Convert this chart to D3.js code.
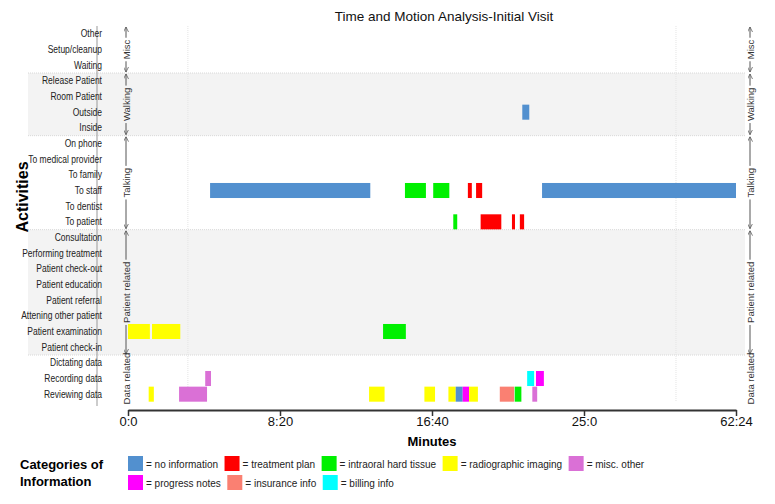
<!DOCTYPE html>
<html>
<head>
<meta charset="utf-8">
<script src="https://cdn.jsdelivr.net/npm/d3@7/dist/d3.min.js"></script>
<style>
  body { margin: 0; background: #fff; }
  text { font-family: "Liberation Sans", Arial, sans-serif; }
</style>
</head>
<body>
<svg id="chart" width="775" height="504"></svg>
<script>
// activities, top to bottom
const activities = [
  "Other", "Setup/cleanup", "Waiting",
  "Release Patient", "Room Patient", "Outside", "Inside",
  "On phone", "To medical provider", "To family", "To staff", "To dentist", "To patient",
  "Consultation", "Performing treatment", "Patient check-out", "Patient education",
  "Patient referral", "Attening other patient", "Patient examination", "Patient check-in",
  "Dictating data", "Recording data", "Reviewing data"
];

const groupNames = ["Misc", "Walking", "Talking", "Patient related", "Data related"];
const groupSizes = [3, 4, 6, 8, 3];
const groupShaded = [false, true, false, true, false];

const categories = ["no information", "treatment plan", "intraoral hard tissue", "radiographic imaging",
  "misc. other", "progress notes", "insurance info", "billing info"];
const catColors = ["#5290cf", "#ff0000", "#00f000", "#ffff00", "#da70d6", "#ff00ff", "#fa8072", "#00ffff"];

// x axis: seconds; the last stretch is squeezed
const tickSecs = [0, 500, 1000, 1500, 3744];
const gridSecs = [197, 2858];

// [activity, start (s), end (s), category]
const segments = [
  ["Outside", 1297, 1320, "no information"],
  ["To staff", 270, 797, "no information"],
  ["To staff", 911, 980, "intraoral hard tissue"],
  ["To staff", 1004, 1057, "intraoral hard tissue"],
  ["To staff", 1118, 1131, "treatment plan"],
  ["To staff", 1145, 1165, "treatment plan"],
  ["To staff", 1362, 3744, "no information"],
  ["To patient", 1070, 1083, "intraoral hard tissue"],
  ["To patient", 1160, 1228, "treatment plan"],
  ["To patient", 1263, 1273, "treatment plan"],
  ["To patient", 1289, 1303, "treatment plan"],
  ["Patient examination", 0, 72, "radiographic imaging"],
  ["Patient examination", 79, 172, "radiographic imaging"],
  ["Patient examination", 839, 914, "intraoral hard tissue"],
  ["Recording data", 254, 273, "misc. other"],
  ["Recording data", 1313, 1336, "billing info"],
  ["Recording data", 1342, 1368, "progress notes"],
  ["Reviewing data", 68, 85, "radiographic imaging"],
  ["Reviewing data", 168, 260, "misc. other"],
  ["Reviewing data", 793, 844, "radiographic imaging"],
  ["Reviewing data", 975, 1010, "radiographic imaging"],
  ["Reviewing data", 1054, 1078, "radiographic imaging"],
  ["Reviewing data", 1078, 1101, "no information"],
  ["Reviewing data", 1101, 1122, "progress notes"],
  ["Reviewing data", 1122, 1151, "radiographic imaging"],
  ["Reviewing data", 1223, 1270, "insurance info"],
  ["Reviewing data", 1272, 1294, "intraoral hard tissue"],
  ["Reviewing data", 1330, 1346, "misc. other"]
];

const svg = d3.select("#chart");

const plotTop = 26, plotBottom = 402;
const plotLeft = 128, plotRight = 736;

// squeeze text horizontally, the source used a narrow face
function narrow(sel, k) {
  sel.each(function() {
    const w = this.getComputedTextLength();
    d3.select(this).attr("textLength", w * k).attr("lengthAdjust", "spacingAndGlyphs");
  });
}

const x = d3.scaleLinear()
  .domain(tickSecs)
  .range(tickSecs.map((d, i) => plotLeft + i * (plotRight - plotLeft) / (tickSecs.length - 1)));

const y = d3.scaleBand()
  .domain(activities)
  .range([plotTop, plotBottom])
  .paddingInner(0.04)
  .paddingOuter(0.02);

const color = d3.scaleOrdinal().domain(categories).range(catColors);

// group extents
let acc = 0;
const groups = groupNames.map((g, i) => {
  const first = activities[acc], last = activities[acc + groupSizes[i] - 1];
  acc += groupSizes[i];
  const step = y.step();
  return {
    name: g,
    y0: y(first) - step * y.paddingInner() / 2,
    y1: y(last) + y.bandwidth() + step * y.paddingInner() / 2,
    shaded: groupShaded[i]
  };
});
groups[0].y0 = plotTop;
groups[groups.length - 1].y1 = plotBottom;

// shaded bands
svg.selectAll("rect.band")
  .data(groups.filter(g => g.shaded))
  .enter().append("rect")
  .attr("class", "band")
  .attr("x", 28).attr("width", 745 - 28)
  .attr("y", d => d.y0).attr("height", d => d.y1 - d.y0)
  .attr("fill", "#f3f3f3");

svg.selectAll("line.bandedge")
  .data(groups.filter(g => g.shaded).flatMap(g => [g.y0, g.y1]))
  .enter().append("line")
  .attr("x1", 28).attr("x2", 745)
  .attr("y1", d => d).attr("y2", d => d)
  .attr("stroke", "#d8d8d8")
  .attr("stroke-dasharray", "1,1");

// faint vertical grid
svg.selectAll("line.grid")
  .data(gridSecs)
  .enter().append("line")
  .attr("x1", d => x(d)).attr("x2", d => x(d))
  .attr("y1", plotTop).attr("y2", plotBottom)
  .attr("stroke", "#e4e4e4")
  .attr("stroke-dasharray", "1,1");

// title
svg.append("text")
  .attr("x", 444).attr("y", 21)
  .attr("text-anchor", "middle")
  .attr("font-size", 13.5)
  .attr("fill", "#111")
  .text("Time and Motion Analysis-Initial Visit");

// activity labels
svg.append("line")
  .attr("x1", 97).attr("x2", 97)
  .attr("y1", plotTop).attr("y2", 406)
  .attr("stroke", "#999");

svg.selectAll("text.act")
  .data(activities)
  .enter().append("text")
  .attr("class", "act")
  .attr("x", 102)
  .attr("y", d => y(d) + y.bandwidth() / 2 + 3.5)
  .attr("text-anchor", "end")
  .attr("font-size", 10)
  .attr("fill", "#222")
  .text(d => d)
  .call(narrow, 0.85);

svg.append("text")
  .attr("transform", "translate(28,197) rotate(-90)")
  .attr("text-anchor", "middle")
  .attr("font-size", 16)
  .attr("font-weight", "bold")
  .text("Activities");

// group brackets on both sides
const defs = svg.append("defs");
defs.append("marker")
  .attr("id", "arr")
  .attr("viewBox", "0 -4 8 8")
  .attr("refX", 8).attr("refY", 0)
  .attr("markerWidth", 5).attr("markerHeight", 5)
  .attr("markerUnits", "userSpaceOnUse")
  .attr("orient", "auto-start-reverse")
  .append("path")
  .attr("d", "M0,-4L8,0L0,4")
  .attr("fill", "none")
  .attr("stroke", "#555")
  .attr("stroke-width", 1.2);

[126, 750].forEach(bx => {
  groups.forEach(g => {
    const mid = (g.y0 + g.y1) / 2;
    const t = svg.append("text")
      .attr("transform", `translate(${bx + 3.5},${mid}) rotate(-90)`)
      .attr("text-anchor", "middle")
      .attr("font-size", 9.5)
      .attr("fill", "#333")
      .text(g.name);
    const half = t.node().getComputedTextLength() / 2 + 2;
    const a = Math.max(g.y0 + 1, mid - half), b = Math.min(g.y1 - 1, mid + half);
    if (a - g.y0 > 3) {
      svg.append("line")
        .attr("x1", bx).attr("x2", bx)
        .attr("y1", g.y0 + 1).attr("y2", a)
        .attr("stroke", "#555")
        .attr("marker-start", "url(#arr)");
    }
    if (g.y1 - b > 3) {
      svg.append("line")
        .attr("x1", bx).attr("x2", bx)
        .attr("y1", b).attr("y2", g.y1 - 1)
        .attr("stroke", "#555")
        .attr("marker-end", "url(#arr)");
    }
  });
});

// bars
svg.selectAll("rect.seg")
  .data(segments)
  .enter().append("rect")
  .attr("class", "seg")
  .attr("x", d => x(d[1]))
  .attr("width", d => x(d[2]) - x(d[1]))
  .attr("y", d => y(d[0]))
  .attr("height", y.bandwidth())
  .attr("fill", d => color(d[3]));

// x axis
const xAxis = d3.axisBottom(x)
  .tickValues(tickSecs)
  .tickSize(6)
  .tickSizeOuter(0)
  .tickFormat(d => Math.floor(d / 60) + ":" + (d % 60));

const gx = svg.append("g")
  .attr("transform", `translate(0,${410})`)
  .call(xAxis);
gx.select(".domain").attr("stroke", "#333").attr("stroke-width", 2);
gx.selectAll(".tick line").attr("stroke", "#333").attr("stroke-width", 1.5);
gx.selectAll(".tick text")
  .attr("font-family", "Liberation Sans, Arial, sans-serif")
  .attr("font-size", 13)
  .attr("fill", "#111")
  .attr("dy", "0.55em");

svg.append("text")
  .attr("x", 432).attr("y", 446)
  .attr("text-anchor", "middle")
  .attr("font-size", 13)
  .attr("font-weight", "bold")
  .text("Minutes");

// legend
svg.append("text")
  .attr("x", 20).attr("y", 469)
  .attr("font-size", 13).attr("font-weight", "bold")
  .text("Categories of");
svg.append("text")
  .attr("x", 20).attr("y", 486)
  .attr("font-size", 13).attr("font-weight", "bold")
  .text("Information");

const legendRows = [categories.slice(0, 5), categories.slice(5)];
legendRows.forEach((row, r) => {
  let lx = 128;
  const ly = 456 + r * 19;
  row.forEach(c => {
    svg.append("rect")
      .attr("x", lx).attr("y", ly)
      .attr("width", 15).attr("height", 15)
      .attr("fill", color(c));
    const t = svg.append("text")
      .attr("x", lx + 18).attr("y", ly + 11.5)
      .attr("font-size", 11.5)
      .attr("fill", "#222")
      .text("= " + c)
      .call(narrow, 0.87);
    lx += 18 + (+t.attr("textLength")) + 6.5;
  });
});
</script>
</body>
</html>
